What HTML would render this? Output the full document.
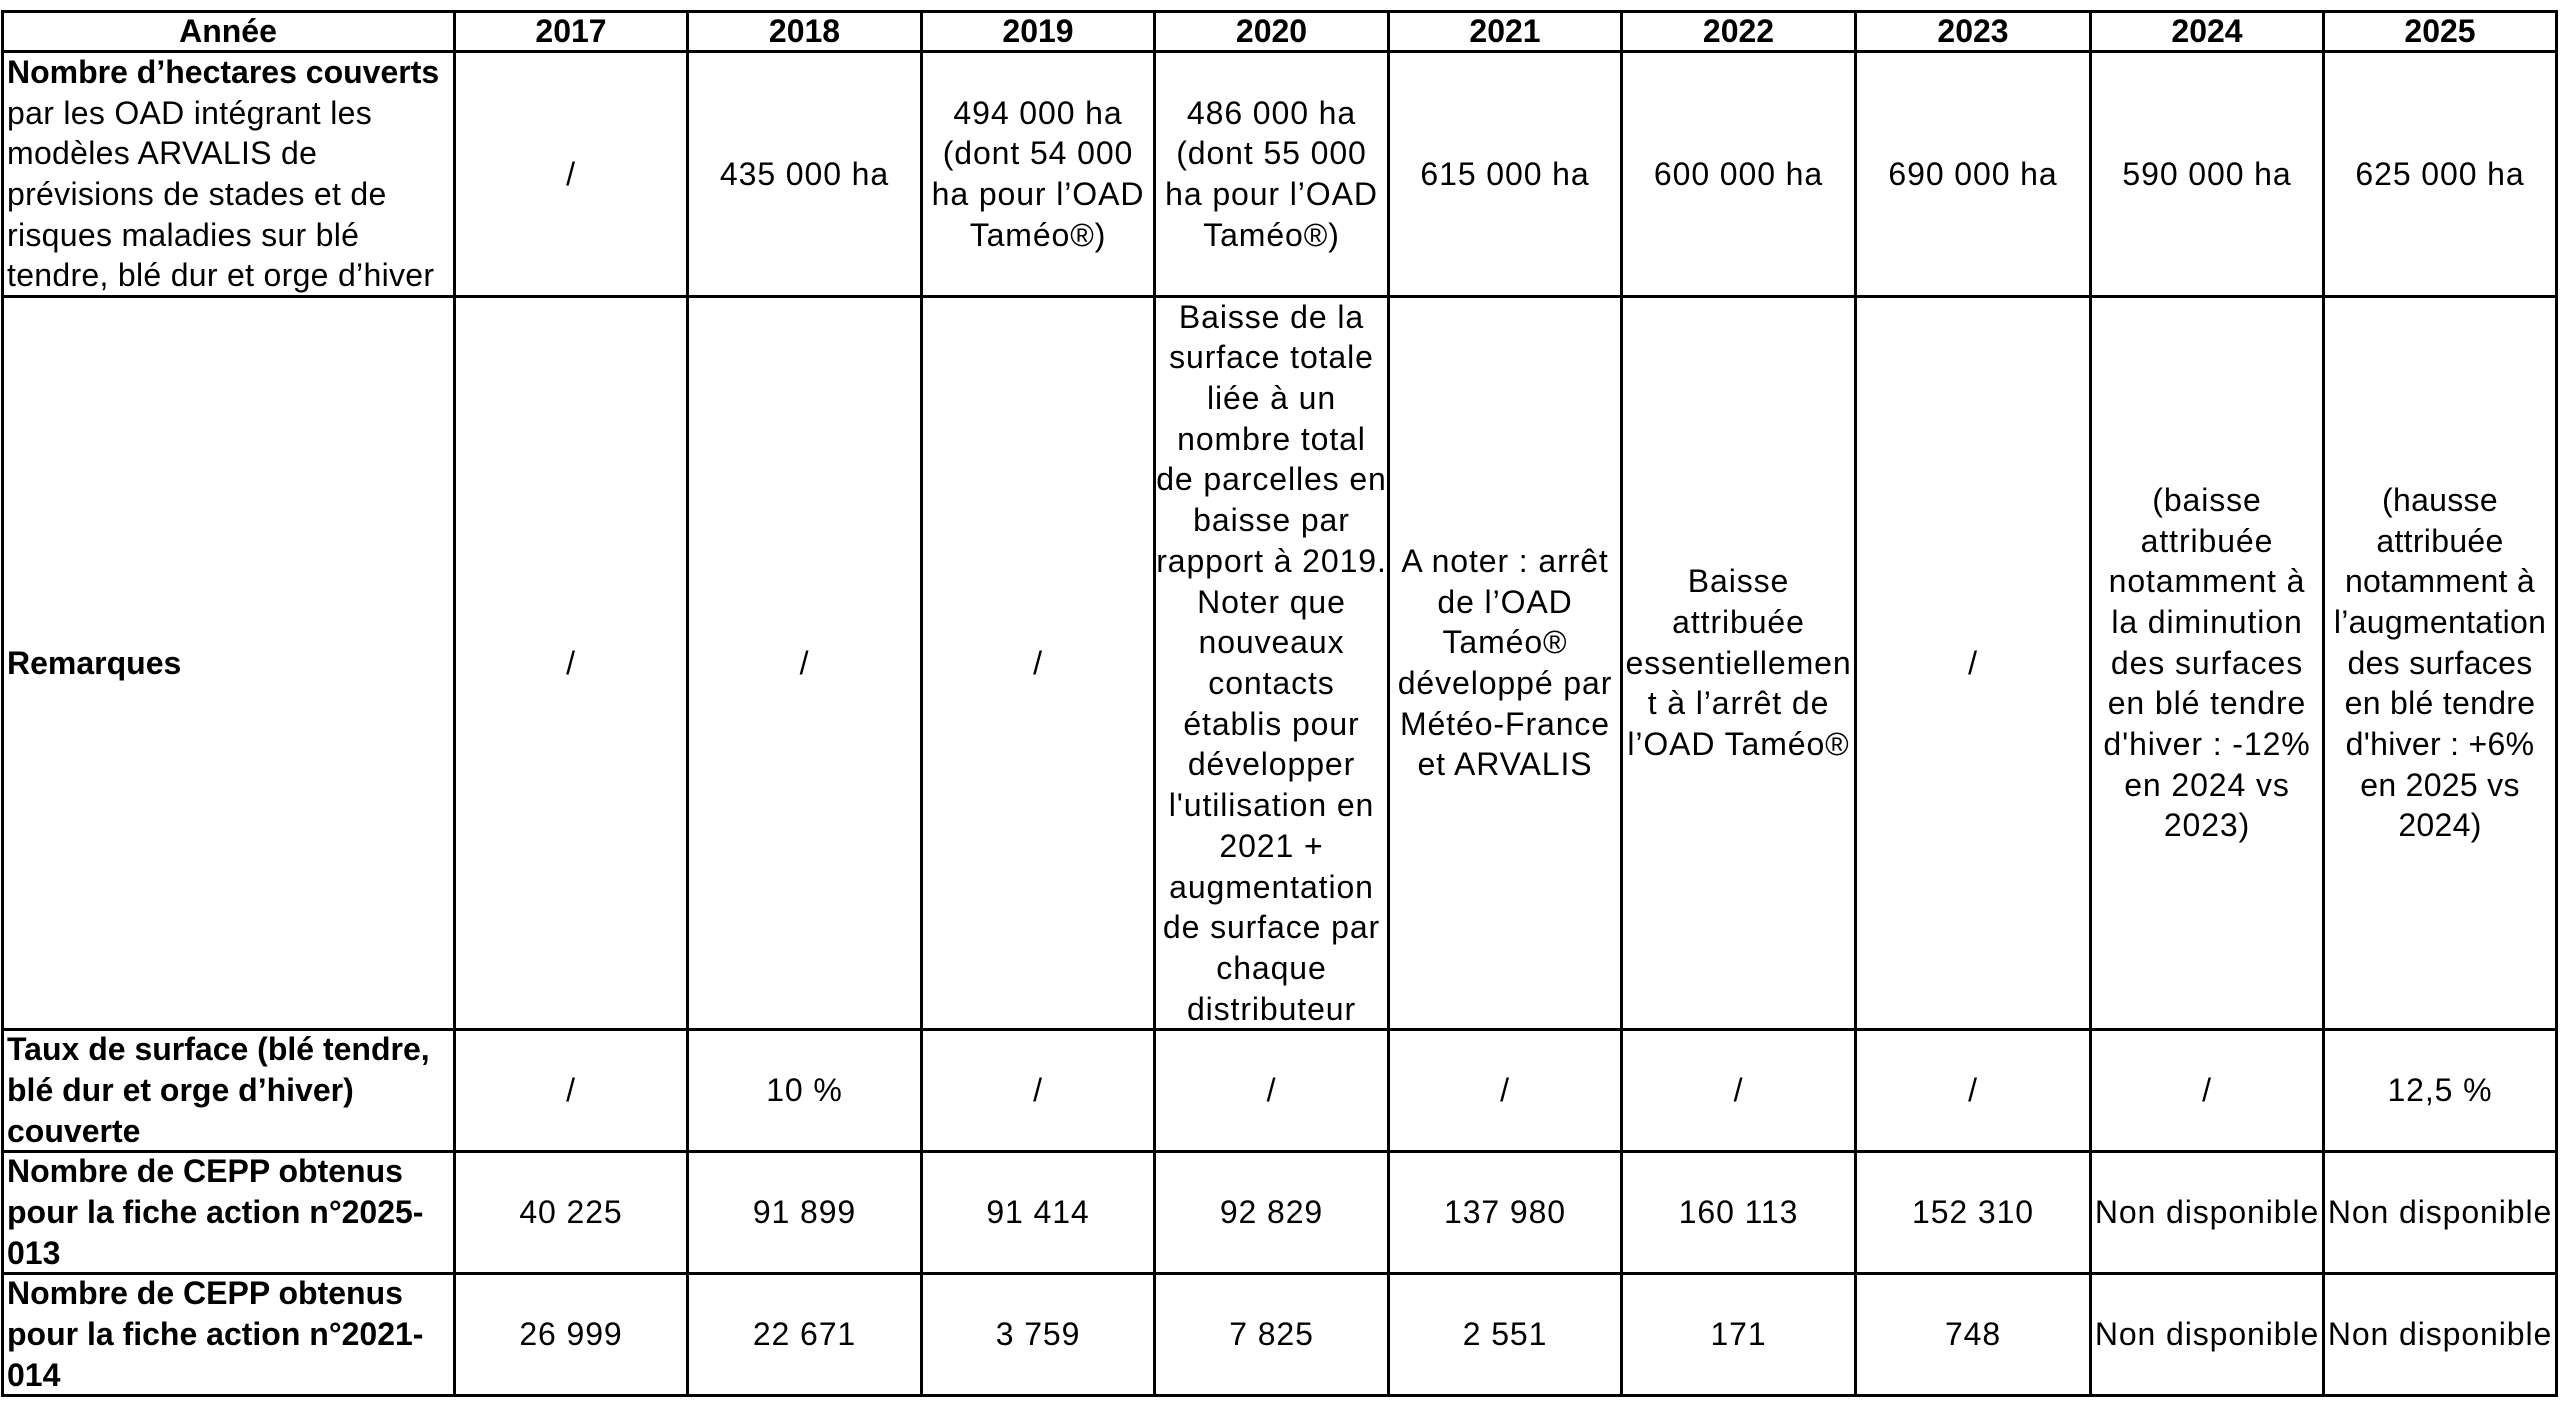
<!DOCTYPE html>
<html><head><meta charset="utf-8"><style>
html,body{margin:0;padding:0;background:#fff;width:2560px;height:1416px;overflow:hidden}
body{position:relative;font-family:"Liberation Sans",sans-serif;color:#000}
.h{position:absolute;background:#000;height:3px}
.v{position:absolute;background:#000;width:3px}
.c{position:absolute;display:flex;align-items:center;justify-content:center;text-align:center;font-size:32px;line-height:40.7px;white-space:nowrap;letter-spacing:0.9px}
.l{justify-content:flex-start;text-align:left;padding-left:4px;box-sizing:border-box}
.b{font-weight:bold;letter-spacing:0}
.l:not(.b){letter-spacing:0.3px}
</style></head><body>
<div class="h" style="left:1px;top:10px;width:2557px"></div>
<div class="h" style="left:1px;top:50px;width:2557px"></div>
<div class="h" style="left:1px;top:295px;width:2557px"></div>
<div class="h" style="left:1px;top:1028px;width:2557px"></div>
<div class="h" style="left:1px;top:1150px;width:2557px"></div>
<div class="h" style="left:1px;top:1272px;width:2557px"></div>
<div class="h" style="left:1px;top:1394px;width:2557px"></div>
<div class="v" style="left:1px;top:10px;height:1387px"></div>
<div class="v" style="left:453px;top:10px;height:1387px"></div>
<div class="v" style="left:686px;top:10px;height:1387px"></div>
<div class="v" style="left:920px;top:10px;height:1387px"></div>
<div class="v" style="left:1153px;top:10px;height:1387px"></div>
<div class="v" style="left:1387px;top:10px;height:1387px"></div>
<div class="v" style="left:1620px;top:10px;height:1387px"></div>
<div class="v" style="left:1854px;top:10px;height:1387px"></div>
<div class="v" style="left:2089px;top:10px;height:1387px"></div>
<div class="v" style="left:2322px;top:10px;height:1387px"></div>
<div class="v" style="left:2555px;top:10px;height:1387px"></div>

<div class="c b" style="left:3px;top:12px;width:450px;height:38px">Année</div>
<div class="c b" style="left:456px;top:12px;width:230px;height:38px">2017</div>
<div class="c b" style="left:689px;top:12px;width:231px;height:38px">2018</div>
<div class="c b" style="left:923px;top:12px;width:230px;height:38px">2019</div>
<div class="c b" style="left:1156px;top:12px;width:231px;height:38px">2020</div>
<div class="c b" style="left:1390px;top:12px;width:230px;height:38px">2021</div>
<div class="c b" style="left:1623px;top:12px;width:231px;height:38px">2022</div>
<div class="c b" style="left:1857px;top:12px;width:232px;height:38px">2023</div>
<div class="c b" style="left:2092px;top:12px;width:230px;height:38px">2024</div>
<div class="c b" style="left:2325px;top:12px;width:230px;height:38px">2025</div>

<div class="c l" style="left:3px;top:53px;width:450px;height:242px"><div><b style="letter-spacing:0">Nombre d’hectares couverts</b><br>par les OAD intégrant les<br>modèles ARVALIS de<br>prévisions de stades et de<br>risques maladies sur blé<br>tendre, blé dur et orge d’hiver</div></div>
<div class="c" style="left:456px;top:53px;width:230px;height:242px">/</div>
<div class="c" style="left:689px;top:53px;width:231px;height:242px">435 000 ha</div>
<div class="c" style="left:923px;top:53px;width:230px;height:242px">494 000 ha<br>(dont 54 000<br>ha pour l’OAD<br>Taméo®)</div>
<div class="c" style="left:1156px;top:53px;width:231px;height:242px">486 000 ha<br>(dont 55 000<br>ha pour l’OAD<br>Taméo®)</div>
<div class="c" style="left:1390px;top:53px;width:230px;height:242px">615 000 ha</div>
<div class="c" style="left:1623px;top:53px;width:231px;height:242px">600 000 ha</div>
<div class="c" style="left:1857px;top:53px;width:232px;height:242px">690 000 ha</div>
<div class="c" style="left:2092px;top:53px;width:230px;height:242px">590 000 ha</div>
<div class="c" style="left:2325px;top:53px;width:230px;height:242px">625 000 ha</div>

<div class="c l b" style="left:3px;top:298px;width:450px;height:730px">Remarques</div>
<div class="c" style="left:456px;top:298px;width:230px;height:730px">/</div>
<div class="c" style="left:689px;top:298px;width:231px;height:730px">/</div>
<div class="c" style="left:923px;top:298px;width:230px;height:730px">/</div>
<div class="c" style="left:1156px;top:298px;width:231px;height:730px">Baisse de la<br>surface totale<br>liée à un<br>nombre total<br>de parcelles en<br>baisse par<br>rapport à 2019.<br>Noter que<br>nouveaux<br>contacts<br>établis pour<br>développer<br>l'utilisation en<br>2021 +<br>augmentation<br>de surface par<br>chaque<br>distributeur</div>
<div class="c" style="left:1390px;top:298px;width:230px;height:730px">A noter : arrêt<br>de l’OAD<br>Taméo®<br>développé par<br>Météo-France<br>et ARVALIS</div>
<div class="c" style="left:1623px;top:298px;width:231px;height:730px">Baisse<br>attribuée<br>essentiellemen<br>t à l’arrêt de<br>l’OAD Taméo®</div>
<div class="c" style="left:1857px;top:298px;width:232px;height:730px">/</div>
<div class="c" style="left:2092px;top:298px;width:230px;height:730px">(baisse<br>attribuée<br>notamment à<br>la diminution<br>des surfaces<br>en blé tendre<br>d'hiver : -12%<br>en 2024 vs<br>2023)</div>
<div class="c" style="left:2325px;top:298px;width:230px;height:730px;letter-spacing:0.3px">(hausse<br>attribuée<br>notamment à<br>l’augmentation<br>des surfaces<br>en blé tendre<br>d'hiver : +6%<br>en 2025 vs<br>2024)</div>

<div class="c l b" style="left:3px;top:1031px;width:450px;height:119px"><div>Taux de surface (blé tendre,<br>blé dur et orge d’hiver)<br>couverte</div></div>
<div class="c" style="left:456px;top:1031px;width:230px;height:119px">/</div>
<div class="c" style="left:689px;top:1031px;width:231px;height:119px">10 %</div>
<div class="c" style="left:923px;top:1031px;width:230px;height:119px">/</div>
<div class="c" style="left:1156px;top:1031px;width:231px;height:119px">/</div>
<div class="c" style="left:1390px;top:1031px;width:230px;height:119px">/</div>
<div class="c" style="left:1623px;top:1031px;width:231px;height:119px">/</div>
<div class="c" style="left:1857px;top:1031px;width:232px;height:119px">/</div>
<div class="c" style="left:2092px;top:1031px;width:230px;height:119px">/</div>
<div class="c" style="left:2325px;top:1031px;width:230px;height:119px">12,5 %</div>

<div class="c l b" style="left:3px;top:1153px;width:450px;height:119px"><div>Nombre de CEPP obtenus<br>pour la fiche action n°2025-<br>013</div></div>
<div class="c" style="left:456px;top:1153px;width:230px;height:119px">40 225</div>
<div class="c" style="left:689px;top:1153px;width:231px;height:119px">91 899</div>
<div class="c" style="left:923px;top:1153px;width:230px;height:119px">91 414</div>
<div class="c" style="left:1156px;top:1153px;width:231px;height:119px">92 829</div>
<div class="c" style="left:1390px;top:1153px;width:230px;height:119px">137 980</div>
<div class="c" style="left:1623px;top:1153px;width:231px;height:119px">160 113</div>
<div class="c" style="left:1857px;top:1153px;width:232px;height:119px">152 310</div>
<div class="c" style="left:2092px;top:1153px;width:230px;height:119px">Non disponible</div>
<div class="c" style="left:2325px;top:1153px;width:230px;height:119px">Non disponible</div>

<div class="c l b" style="left:3px;top:1275px;width:450px;height:119px"><div>Nombre de CEPP obtenus<br>pour la fiche action n°2021-<br>014</div></div>
<div class="c" style="left:456px;top:1275px;width:230px;height:119px">26 999</div>
<div class="c" style="left:689px;top:1275px;width:231px;height:119px">22 671</div>
<div class="c" style="left:923px;top:1275px;width:230px;height:119px">3 759</div>
<div class="c" style="left:1156px;top:1275px;width:231px;height:119px">7 825</div>
<div class="c" style="left:1390px;top:1275px;width:230px;height:119px">2 551</div>
<div class="c" style="left:1623px;top:1275px;width:231px;height:119px">171</div>
<div class="c" style="left:1857px;top:1275px;width:232px;height:119px">748</div>
<div class="c" style="left:2092px;top:1275px;width:230px;height:119px">Non disponible</div>
<div class="c" style="left:2325px;top:1275px;width:230px;height:119px">Non disponible</div>
</body></html>
